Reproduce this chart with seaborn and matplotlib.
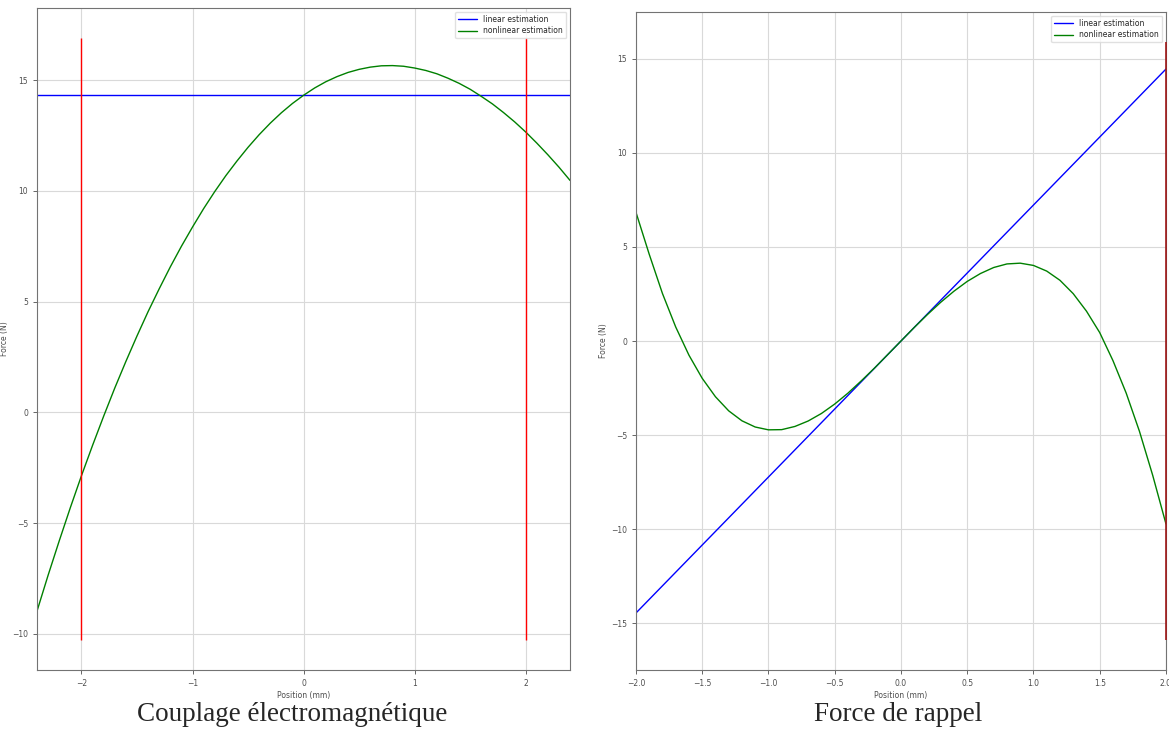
import seaborn as sns
import pandas as pd
import matplotlib.pyplot as plt
import numpy as np

### 데이터

# 왼쪽: Couplage électromagnétique
pos_left = [-2.4, -2.3, -2.2, -2.1, -2.0, -1.9, -1.8, -1.7, -1.6, -1.5, -1.4, -1.3, -1.2, -1.1,
            -1.0, -0.9, -0.8, -0.7, -0.6, -0.5, -0.4, -0.3, -0.2, -0.1, 0.0,
            0.1, 0.2, 0.3, 0.4, 0.5, 0.6, 0.7, 0.8, 0.9, 1.0, 1.1, 1.2, 1.3, 1.4,
            1.5, 1.6, 1.7, 1.8, 1.9, 2.0, 2.1, 2.2, 2.3, 2.4]
couplage_nonlin = [-8.97, -7.35, -5.80, -4.30, -2.86, -1.49, -0.17, 1.10, 2.30, 3.45, 4.55, 5.58, 6.57, 7.50,
                   8.37, 9.20, 9.97, 10.69, 11.35, 11.97, 12.54, 13.06, 13.53, 13.95, 14.32,
                   14.65, 14.93, 15.16, 15.35, 15.49, 15.59, 15.65, 15.66, 15.63, 15.55, 15.44, 15.29, 15.09, 14.86,
                   14.59, 14.27, 13.93, 13.54, 13.12, 12.66, 12.16, 11.63, 11.07, 10.47]
couplage_lin = [14.32] * len(pos_left)
left_limits_x = [-2.0, 2.0]
left_limits_ymin = -10.28
left_limits_ymax = 16.9

# 오른쪽: Force de rappel
pos_right = [-2.0, -1.9, -1.8, -1.7, -1.6, -1.5, -1.4, -1.3, -1.2, -1.1, -1.0, -0.9, -0.8, -0.7,
             -0.6, -0.5, -0.4, -0.3, -0.2, -0.1, 0.0, 0.1, 0.2, 0.3, 0.4, 0.5, 0.6, 0.7,
             0.8, 0.9, 1.0, 1.1, 1.2, 1.3, 1.4, 1.5, 1.6, 1.7, 1.8, 1.9, 2.0]
rappel_nonlin = [6.85, 4.62, 2.53, 0.75, -0.75, -1.98, -2.96, -3.71, -4.24, -4.57, -4.72, -4.71, -4.54, -4.25,
                 -3.85, -3.35, -2.77, -2.12, -1.44, -0.72, 0.0, 0.72, 1.41, 2.06, 2.65, 3.17, 3.59, 3.91,
                 4.10, 4.14, 4.02, 3.72, 3.23, 2.52, 1.59, 0.45, -1.04, -2.77, -4.80, -7.14, -9.72]
rappel_lin_x = [-2.0, 2.0]
rappel_lin = [-14.46, 14.46]
right_limits_x = [2.0]
right_limits_ymin = -15.9
right_limits_ymax = 15.9

captions = ['Couplage électromagnétique', 'Force de rappel']

sns.set_style('white')
plt.rcParams['font.family'] = ['DejaVu Sans']

fig = plt.figure(figsize=(11.69, 7.31), dpi=100)
ax1 = fig.add_axes([0.0317, 0.0834, 0.456, 0.9056])
ax2 = fig.add_axes([0.544, 0.0834, 0.4534, 0.9001])

#왼쪽 그래프############################################
sns.lineplot(x=pos_left, y=couplage_lin, color='blue', lw=1, label='linear estimation', ax=ax1)
sns.lineplot(x=pos_left, y=couplage_nonlin, color='green', lw=1, label='nonlinear estimation', ax=ax1)
ax1.vlines(left_limits_x, left_limits_ymin, left_limits_ymax, color='red', lw=1)
ax1.set_xlim(pos_left[0], pos_left[-1])

#오른쪽 그래프##########################################
sns.lineplot(x=rappel_lin_x, y=rappel_lin, color='blue', lw=1, label='linear estimation', ax=ax2)
sns.lineplot(x=pos_right, y=rappel_nonlin, color='green', lw=1, label='nonlinear estimation', ax=ax2)
ax2.vlines(right_limits_x, right_limits_ymin, right_limits_ymax, color='#a01818', lw=1.2,
           zorder=3, clip_on=False)
ax2.set_xlim(pos_right[0], pos_right[-1])

for ax in [ax1, ax2]:
    ax.grid(True, color='0.85', lw=0.8)
    ax.set_axisbelow(True)
    for s in ax.spines.values():
        s.set_color('0.45')
        s.set_linewidth(0.8)
    ax.tick_params(labelsize=5.5, colors='0.3', length=3, width=0.6, left=True, bottom=True)
    ax.set_xlabel('Position (mm)', fontsize=5.5, color='0.3', labelpad=2)
    ax.set_ylabel('Force (N)', fontsize=5.5, color='0.3', labelpad=2)
    ax.legend(loc='upper right', fontsize=5.5, handlelength=2.5, borderpad=0.4,
              labelspacing=0.3, framealpha=0.8, edgecolor='0.85')

fig.text(0.25, 0.022, captions[0], ha='center', va='center', fontsize=19.5,
         family=['Liberation Serif', 'DejaVu Serif'])
fig.text(0.768, 0.022, captions[1], ha='center', va='center', fontsize=19.5,
         family=['Liberation Serif', 'DejaVu Serif'])

plt.savefig('out.png', dpi=100)
